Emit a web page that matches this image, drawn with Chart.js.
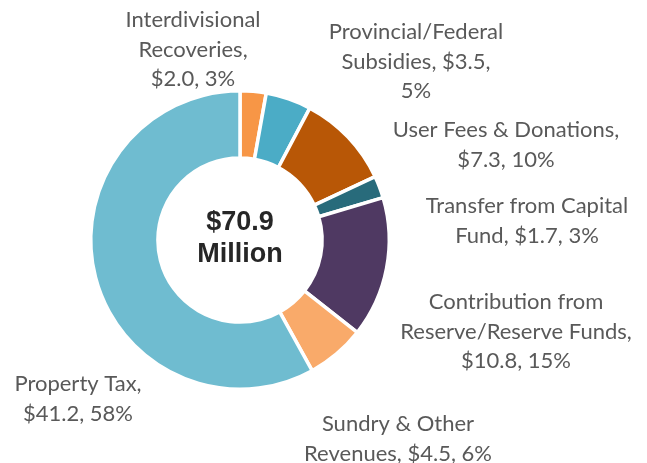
<!DOCTYPE html>
<html>
<head>
<meta charset="utf-8">
<script src="https://cdn.jsdelivr.net/npm/chart.js@4.4.1/dist/chart.umd.min.js"></script>
<style>
    html, body { margin: 0; padding: 0; background: #ffffff; }
    #wrap { width: 647px; height: 463px; position: relative; }
</style>
</head>
<body>
<div id="wrap"><canvas id="revenueChart" width="647" height="463"></canvas></div>
<script>
// Revenue sources, $ millions (clockwise from 12 o'clock)
const categories = [
    'Interdivisional Recoveries',
    'Provincial/Federal Subsidies',
    'User Fees & Donations',
    'Transfer from Capital Fund',
    'Contribution from Reserve/Reserve Funds',
    'Sundry & Other Revenues',
    'Property Tax'
];
const values = [2.0, 3.5, 7.3, 1.7, 10.8, 4.5, 41.2];
const percents = [3, 5, 10, 3, 15, 6, 58];
const totalLabel = ['$70.9', 'Million'];

// how each data label wraps (same text as categories + values)
const labelLines = [
    ['Interdivisional', 'Recoveries,', '$2.0, 3%'],
    ['Provincial/Federal', 'Subsidies, $3.5,', '5%'],
    ['User Fees & Donations,', '$7.3, 10%'],
    ['Transfer from Capital', 'Fund, $1.7, 3%'],
    ['Contribution from', 'Reserve/Reserve Funds,', '$10.8, 15%'],
    ['Sundry & Other', 'Revenues, $4.5, 6%'],
    ['Property Tax,', '$41.2, 58%']
];

const colors = ['#f79646', '#4bacc6', '#b85706', '#286b7b', '#4f3962', '#f9aa6a', '#6fbcd0'];

// first-line anchor of each label, relative to the doughnut centre
const labelOffsets = [
    [-47, -220], [176, -208], [266, -110], [287, -34],
    [276, 62], [158, 184], [-162, 144]
];

const labelPlugin = {
    id: 'pieLabels',
    afterDraw(chart) {
        const ctx = chart.ctx;
        const arc = chart.getDatasetMeta(0).data[0];
        const cx = arc.x, cy = arc.y;
        ctx.save();
        ctx.textAlign = 'center';
        ctx.textBaseline = 'middle';

        ctx.fillStyle = '#595959';
        ctx.font = '22px Lato, "Open Sans", sans-serif';
        labelLines.forEach((lines, i) => {
            const [dx, dy] = labelOffsets[i];
            lines.forEach((line, j) => {
                ctx.fillText(line, cx + dx, cy + dy + j * 29.5);
            });
        });

        ctx.fillStyle = '#262626';
        ctx.font = 'bold 27px "Liberation Sans", Arial, sans-serif';
        ctx.fillText(totalLabel[0], cx, cy - 17);
        ctx.fillText(totalLabel[1], cx, cy + 15);
        ctx.restore();
    }
};

new Chart(document.getElementById('revenueChart'), {
    type: 'doughnut',
    data: {
        labels: categories,
        datasets: [{
            data: values,
            backgroundColor: colors,
            borderColor: '#ffffff',
            borderWidth: 3.5
        }]
    },
    options: {
        responsive: false,
        animation: false,
        cutout: '55%',
        layout: { padding: { left: 89, right: 256, top: 89, bottom: 72 } },
        plugins: {
            legend: { display: false },
            tooltip: { enabled: false }
        }
    },
    plugins: [labelPlugin]
});
</script>
</body>
</html>
